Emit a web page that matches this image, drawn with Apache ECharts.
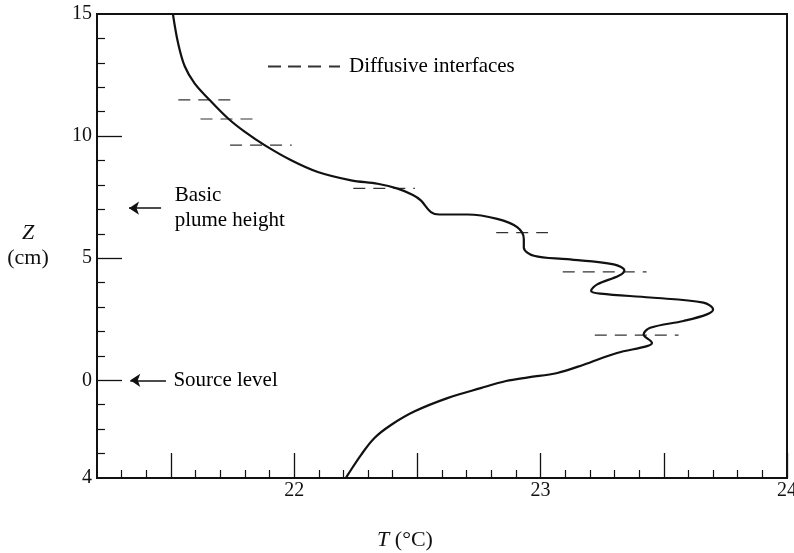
<!DOCTYPE html>
<html>
<head>
<meta charset="utf-8">
<script src="https://cdn.jsdelivr.net/npm/echarts@6/dist/echarts.min.js"></script>
<style>html,body{margin:0;padding:0;background:#fff}#c{width:794px;height:553px}</style>
</head>
<body>
<div id="c"></div>
<script>
// Temperature profile: T (°C) vs Z (cm)
const profileT = [21.508,21.529,21.556,21.596,21.657,21.731,21.799,21.88,21.988,22.096,22.231,22.339,22.42,22.48,22.514,22.555,22.589,22.703,22.824,22.905,22.932,22.932,22.973,23.108,23.297,23.34,23.317,23.23,23.205,23.243,23.445,23.661,23.70,23.675,23.58,23.445,23.418,23.452,23.432,23.31,23.175,23.068,22.95,22.86,22.757,22.622,22.487,22.393,22.325,22.271,22.217,22.21];
const profileZ = [15.0,13.81,12.86,12.16,11.48,10.73,10.18,9.63,9.01,8.53,8.19,8.05,7.85,7.6,7.37,6.89,6.79,6.79,6.61,6.27,5.79,5.44,5.10,4.96,4.75,4.5,4.28,3.93,3.66,3.55,3.39,3.18,2.9,2.70,2.43,2.15,1.88,1.53,1.40,1.12,0.64,0.30,0.12,-0.03,-0.32,-0.73,-1.28,-1.83,-2.37,-3.06,-3.88,-4.0];

// Diffusive interfaces (dashed)
const ifaceZ  = [11.48, 10.7, 9.63, 7.86, 6.05, 4.44, 1.85];
const ifaceT0 = [21.53, 21.62, 21.74, 22.24, 22.82, 23.09, 23.22];
const ifaceT1 = [21.77, 21.86, 21.99, 22.49, 23.03, 23.43, 23.56];

// Annotations
const annotText = ['Basic\nplume height', 'Source level'];
const annotZ = [7.05, 0];
const annotT = [21.515, 21.51];
const arrowTip = [21.33, 21.335];
const arrowTail = [21.46, 21.48];

// Axis ticks
const xLabels = [22, 23, 24];
const xMajorTicks = [21.5, 22, 22.5, 23, 23.5, 24];
const xMinorTicks = [];
for (let i = 213; i < 240; i++) { const v = i / 10; if (!xMajorTicks.some(m => Math.abs(m - v) < 1e-6)) xMinorTicks.push(v); }
const yLabels = [-4, 0, 5, 10, 15];
const yMajorTicks = [0, 5, 10];
const yMinorTicks = [-3,-2,-1,1,2,3,4,6,7,8,9,11,12,13,14];

const FONT = '"Liberation Serif", "DejaVu Serif", serif';
const INK = '#111';

const chart = echarts.init(document.getElementById('c'));

const series = [];
series.push({
  type: 'line', name: 'profile',
  xAxisIndex: 0, yAxisIndex: 0,
  data: profileT.map((t, i) => [t, profileZ[i]]),
  showSymbol: false, symbol: 'none', smooth: 0.35,
  lineStyle: { color: INK, width: 2.2 },
  z: 5, silent: true
});
ifaceZ.forEach((z, i) => {
  series.push({
    type: 'line', name: 'Diffusive interfaces',
    xAxisIndex: 0, yAxisIndex: 0,
    data: [[ifaceT0[i], z], [ifaceT1[i], z]],
    symbol: 'none', showSymbol: false,
    lineStyle: { color: '#333', width: 1.2, type: [12, 8] },
    itemStyle: { color: '#333' },
    z: 4, silent: true
  });
});
series.push({
  type: 'scatter', name: 'annotations',
  xAxisIndex: 0, yAxisIndex: 0,
  symbolSize: 0,
  itemStyle: { opacity: 1 },
  data: annotT.map((t, i) => ({ value: [t, annotZ[i]], label: { formatter: annotText[i] } })),
  label: {
    show: true, position: 'right', distance: 0, opacity: 1,
    fontFamily: FONT, fontSize: 21, color: '#000', lineHeight: 25, align: 'left'
  },
  silent: true,
  markLine: {
    silent: true,
    symbol: ['arrow', 'none'],
    symbolSize: 10,
    label: { show: false },
    lineStyle: { color: INK, width: 1.5, type: 'solid', opacity: 1 },
    data: annotZ.map((z, i) => [{ coord: [arrowTip[i], z] }, { coord: [arrowTail[i], z] }])
  }
});

chart.setOption({
  animation: false,
  backgroundColor: '#fff',
  grid: { left: 97, right: 7, top: 14, bottom: 75, show: true, borderColor: INK, borderWidth: 2,
          containLabel: false, outerBoundsMode: 'none' },
  legend: {
    data: [{ name: 'Diffusive interfaces', icon: 'path://M0 0H13V2H0Z M20 0H33V2H20Z M40 0H53V2H40Z M61 0H72V2H61Z' }],
    left: 263, top: 51,
    itemWidth: 72, itemHeight: 2, itemGap: 5,
    textStyle: { fontFamily: FONT, fontSize: 21, color: '#000', padding: [0, 0, 0, 4] },
    selectedMode: false
  },
  xAxis: [
    {
      type: 'value', min: 21.2, max: 24, position: 'bottom',
      axisLine: { show: true, onZero: false, lineStyle: { color: INK, width: 2 } },
      axisTick: { show: true, inside: true, length: 25, customValues: xMajorTicks, lineStyle: { color: INK, width: 1.3 } },
      axisLabel: { show: true, customValues: xLabels, fontFamily: FONT, fontSize: 20, color: INK, margin: 3 },
      splitLine: { show: false },
      name: '{i|T} (°C)', nameLocation: 'middle', nameGap: 51,
      nameTextStyle: { fontFamily: FONT, fontSize: 22, color: INK, padding: [0, 74, 0, 0],
        rich: { i: { fontFamily: FONT, fontSize: 22, fontStyle: 'italic', color: INK } } }
    },
    {
      type: 'value', min: 21.2, max: 24, position: 'bottom', offset: 0,
      axisLine: { show: false, onZero: false },
      axisTick: { show: true, inside: true, length: 8, customValues: xMinorTicks, lineStyle: { color: INK, width: 1.2 } },
      axisLabel: { show: false },
      splitLine: { show: false }
    }
  ],
  yAxis: [
    {
      type: 'value', min: -4, max: 15, position: 'left',
      axisLine: { show: true, onZero: false, lineStyle: { color: INK, width: 2 } },
      axisTick: { show: true, inside: true, length: 25, customValues: yMajorTicks, lineStyle: { color: INK, width: 1.3 } },
      axisLabel: { show: true, customValues: yLabels, fontFamily: FONT, fontSize: 20, color: INK, margin: 5,
        formatter: v => (v === -4 ? '4' : String(v)) },
      splitLine: { show: false },
      name: '{i|Z}\n(cm)', nameLocation: 'middle', nameRotate: 0, nameGap: 69,
      nameTextStyle: { fontFamily: FONT, fontSize: 22, color: INK, align: 'center', lineHeight: 25,
        rich: { i: { fontFamily: FONT, fontSize: 22, fontStyle: 'italic', color: INK, lineHeight: 25 } } }
    },
    {
      type: 'value', min: -4, max: 15, position: 'left', offset: 0,
      axisLine: { show: false, onZero: false },
      axisTick: { show: true, inside: true, length: 8, customValues: yMinorTicks, lineStyle: { color: INK, width: 1.2 } },
      axisLabel: { show: false },
      splitLine: { show: false }
    }
  ],
  series: series
});
</script>
</body>
</html>
